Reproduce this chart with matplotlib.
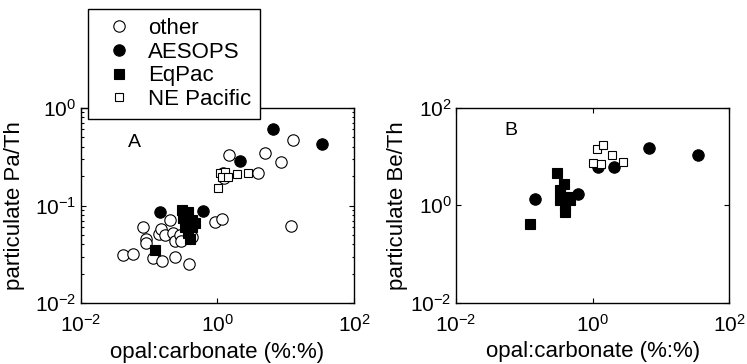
import matplotlib
matplotlib.use("Agg")
from matplotlib import pyplot as plt
from matplotlib.ticker import LogLocator, NullLocator, FixedLocator
import numpy as np

plt.rcParams['font.family'] = ['Liberation Sans', 'DejaVu Sans']
plt.rcParams['mathtext.fontset'] = 'custom'
plt.rcParams['mathtext.rm'] = 'Liberation Sans'
plt.rcParams['mathtext.it'] = 'Liberation Sans:italic'

# panel A: opal:carbonate vs particulate Pa/Th
a_other_x = [0.042, 0.059, 0.081, 0.090, 0.090, 0.115, 0.141, 0.148, 0.153, 0.171,
             0.202, 0.226, 0.239, 0.24, 0.283, 0.29, 0.387, 0.42, 0.92, 1.15,
             1.47, 1.22, 1.25, 3.95, 4.9, 8.67, 12.8, 11.9]
a_other_y = [0.031, 0.032, 0.061, 0.046, 0.041, 0.029, 0.051, 0.058, 0.027, 0.050,
             0.071, 0.052, 0.030, 0.043, 0.050, 0.043, 0.025, 0.048, 0.068, 0.073,
             0.328, 0.213, 0.19, 0.213, 0.345, 0.279, 0.467, 0.062]
a_aesops_x = [0.144, 0.61, 2.13, 6.55, 34.4]
a_aesops_y = [0.085, 0.088, 0.287, 0.60, 0.425]
a_eqpac_x = [0.122, 0.30, 0.375, 0.316, 0.42, 0.335, 0.42, 0.375, 0.396, 0.47]
a_eqpac_y = [0.035, 0.090, 0.086, 0.074, 0.071, 0.061, 0.061, 0.052, 0.046, 0.066]
a_nepac_x = [1.03, 1.09, 1.29, 1.15, 1.44, 1.91, 2.82]
a_nepac_y = [0.15, 0.213, 0.222, 0.194, 0.194, 0.208, 0.213]

# panel B: opal:carbonate vs particulate Be/Th
b_aesops_x = [0.143, 0.60, 1.21, 2.07, 6.67, 35.2]
b_aesops_y = [1.32, 1.70, 6.2, 6.2, 15.1, 10.5]
b_eqpac_x = [0.121, 0.297, 0.384, 0.332, 0.35, 0.44, 0.39, 0.39, 0.466, 0.33]
b_eqpac_y = [0.41, 4.5, 2.72, 2.05, 1.50, 1.5, 1.0, 0.74, 1.28, 1.28]
b_nepac_x = [1.14, 1.43, 1.9, 1.02, 1.31, 2.8]
b_nepac_y = [14.4, 17.2, 10.9, 7.2, 6.9, 7.7]

fig = plt.figure(figsize=(7.47, 3.64), dpi=100)
axA = fig.add_axes([0.108, 0.1668, 0.366, 0.537])
axB = fig.add_axes([0.6104, 0.1683, 0.366, 0.536])

circ = dict(marker='o', linestyle='none', markersize=8.2, markeredgewidth=0.8)
sq_f = dict(marker='s', linestyle='none', markersize=7, markeredgewidth=0.8,
            color='black')
sq_o = dict(marker='s', linestyle='none', markersize=6.3, markeredgewidth=0.8,
            markerfacecolor='white', markeredgecolor='black')

h1, = axA.plot(a_other_x, a_other_y, markerfacecolor='white',
               markeredgecolor='black', **circ)
h2, = axA.plot(a_aesops_x, a_aesops_y, color='black', **circ)
h4, = axA.plot(a_nepac_x, a_nepac_y, **sq_o)
h3, = axA.plot(a_eqpac_x, a_eqpac_y, **sq_f)

axB.plot(b_aesops_x, b_aesops_y, color='black', **circ)
axB.plot(b_eqpac_x, b_eqpac_y, **sq_f)
axB.plot(b_nepac_x, b_nepac_y, **sq_o)

for ax in (axA, axB):
    ax.set_xscale('log')
    ax.set_yscale('log')
    ax.set_xlim(1e-2, 1e2)
    ax.xaxis.set_major_locator(FixedLocator([1e-2, 1e0, 1e2]))
    ax.xaxis.set_minor_locator(NullLocator())
    ax.set_xticklabels([r'$\mathregular{10^{-2}}$', r'$\mathregular{10^{0}}$',
                        r'$\mathregular{10^{2}}$'])
    ax.tick_params(which='both', direction='in', top=True, right=True,
                   labelsize=15, width=0.8)
    ax.tick_params(which='major', length=3.5)
    ax.tick_params(which='minor', length=1.8)
    ax.tick_params(axis='x', pad=8)
    ax.tick_params(axis='y', pad=3)
    for s in ax.spines.values():
        s.set_linewidth(1.0)
    ax.set_xlabel('opal:carbonate (%:%)', fontsize=16, labelpad=4)

axA.set_ylim(1e-2, 1e0)
axA.yaxis.set_major_locator(FixedLocator([1e-2, 1e-1, 1e0]))
axA.yaxis.set_minor_locator(LogLocator(base=10, subs=np.arange(2, 10)))
axA.set_yticklabels([r'$\mathregular{10^{-2}}$', r'$\mathregular{10^{-1}}$',
                     r'$\mathregular{10^{0}}$'])
axA.set_ylabel('particulate Pa/Th', fontsize=16)
axA.yaxis.set_label_coords(-0.205, 0.5)
axA.text(0.173, 0.80, 'A', transform=axA.transAxes, fontsize=14)

axB.set_ylim(1e-2, 1e2)
axB.yaxis.set_major_locator(FixedLocator([1e-2, 1e0, 1e2]))
axB.yaxis.set_minor_locator(NullLocator())
axB.set_yticklabels([r'$\mathregular{10^{-2}}$', r'$\mathregular{10^{0}}$',
                     r'$\mathregular{10^{2}}$'])
axB.set_ylabel('particulate Be/Th', fontsize=16)
axB.yaxis.set_label_coords(-0.177, 0.5)
axB.text(0.176, 0.86, 'B', transform=axB.transAxes, fontsize=14)

leg = axA.legend([h1, h2, h3, h4], ['other', 'AESOPS', 'EqPac', 'NE Pacific'],
                 loc='upper left', bbox_to_anchor=(0.1174, 0.975),
                 bbox_transform=fig.transFigure, borderaxespad=0,
                 fontsize=16, fancybox=False, framealpha=1, edgecolor='black',
                 borderpad=0.4, handlelength=2.0, handletextpad=0.3,
                 labelspacing=0.12)
leg.get_frame().set_linewidth(1.0)
leg.set_zorder(10)

fig.savefig('out.png', dpi=100)
